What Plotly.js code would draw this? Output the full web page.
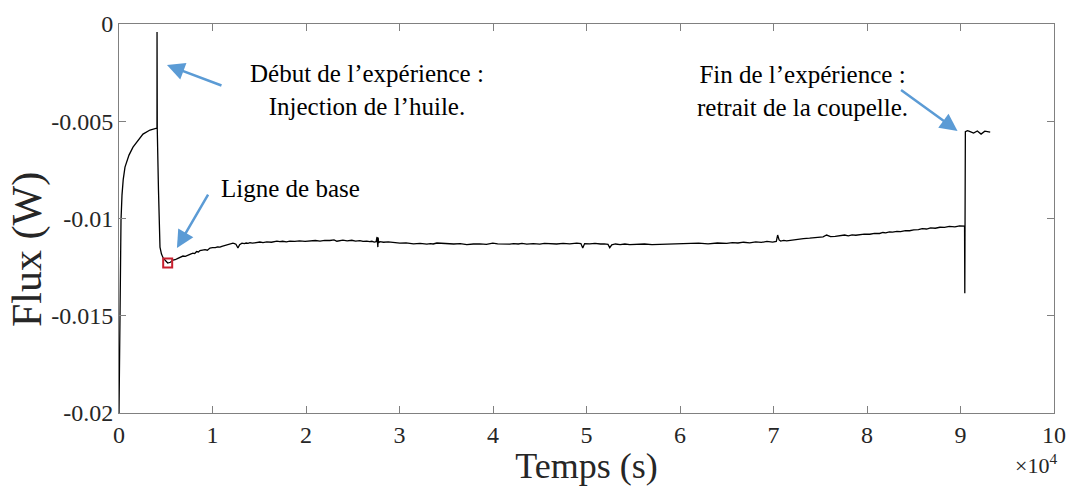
<!DOCTYPE html>
<html>
<head>
<meta charset="utf-8">
<script src="https://cdn.plot.ly/plotly-3.0.1.min.js"></script>
<style>html,body{margin:0;padding:0;background:#fff;}#chart{width:1070px;height:486px;}</style>
</head>
<body>
<div id="chart"></div>
<script>
// Time (s) and heat flux (W)
const timeS = [0, 30, 60, 107, 160, 214, 320, 450, 641, 850, 1069, 1497, 2031, 2565, 3314, 3750, 4062, 4068, 4075, 4094, 4222, 4383, 4543, 4735,
  5206, 5500, 5772, 6000, 6300, 6600, 6841, 7100, 7400, 7650, 7910, 8100, 8300, 8500, 8659, 8900, 9200, 9450, 9728, 10000, 10300, 10550, 10797, 11000, 11200, 11400, 11545, 11900, 12186, 12350, 12507, 12721, 12900, 13149, 13400, 13600, 13800, 14004, 14250, 14500, 14800, 15073, 15400, 15800, 16300, 16890, 17200, 17500, 17900, 18279, 18800, 19300, 19900, 20417, 21000, 21500, 22000, 22555, 23000, 23300, 23600, 23944, 24400, 24900, 25300, 25762, 26100, 26500, 26800, 27044, 27300, 27500, 27600, 27650, 27686, 27720, 27760, 27900, 28300, 28800, 29400, 30037, 30700, 31500, 32200, 32924, 33300, 33600, 34000, 34313, 35000, 35800, 36500, 37199, 37900, 38600, 39300, 39978, 40500, 41000, 41400, 41795, 42200, 42700, 43100, 43613, 44300, 45000, 45500, 46071, 46800, 47500, 48200, 48957, 49400, 49599, 49800, 50347, 50900, 51500, 51900, 52300, 52485, 52700, 53100, 53600, 54100, 54623, 55400, 56200, 57000, 57830, 58600, 59400, 60200, 61037, 62000, 63000, 64000, 64991, 65600, 66200, 66800, 67450, 68100, 68700, 69300, 69909, 70300, 70443, 70600, 70764, 71100, 71405, 72000, 72600, 73200, 73864, 74300, 74800, 75300, 75681, 76100, 76600, 77100, 77605, 78000, 78400, 78800, 79209, 79700, 80300, 80800, 81347, 81700, 82000, 82400, 82737, 83200, 83600, 84100, 84554, 85000, 85500, 85900, 86371, 86800, 87300, 87800, 88295, 88800, 89400, 89900, 90433,
  90460, 90520, 90750, 90968, 91400, 91800, 92200, 92600, 93177];
const fluxW = [-0.0200, -0.0185, -0.0165, -0.0140, -0.0118, -0.0101, -0.0088, -0.0080, -0.00736, -0.00700, -0.00674, -0.00633, -0.00597, -0.00566, -0.00545, -0.00538, -0.00535, -0.00041, -0.00530, -0.00545, -0.00854, -0.01147, -0.01183, -0.01204,
  -0.01229, -0.01225, -0.01214, -0.01212, -0.01205, -0.01200, -0.01193, -0.01195, -0.01187, -0.01183, -0.01178, -0.01180, -0.01170, -0.01172, -0.01165, -0.01163, -0.01160, -0.01163, -0.01152, -0.01150, -0.01150, -0.01146, -0.01147, -0.01143, -0.01140, -0.01141, -0.01137, -0.01133, -0.01127, -0.01129, -0.01132, -0.01152, -0.01135, -0.01127, -0.01129, -0.01126, -0.01128, -0.01124, -0.01127, -0.01125, -0.01122, -0.01121, -0.01124, -0.01120, -0.01122, -0.01116, -0.01119, -0.01117, -0.01120, -0.01116, -0.01118, -0.01115, -0.01118, -0.01115, -0.01113, -0.01116, -0.01112, -0.01113, -0.01110, -0.01117, -0.01113, -0.01111, -0.01115, -0.01112, -0.01116, -0.01114, -0.01118, -0.01116, -0.01119, -0.01117, -0.01121, -0.01119, -0.01095, -0.01140, -0.01147, -0.01098, -0.01125, -0.01119, -0.01122, -0.01120, -0.01124, -0.01127, -0.01125, -0.01130, -0.01128, -0.01132, -0.01129, -0.01131, -0.01126, -0.01127, -0.01130, -0.01131, -0.01129, -0.01134, -0.01131, -0.01130, -0.01133, -0.01127, -0.01130, -0.01131, -0.01128, -0.01132, -0.01129, -0.01131, -0.01128, -0.01132, -0.01129, -0.01132, -0.01128, -0.01130, -0.01131, -0.01128, -0.01130, -0.01127, -0.01129, -0.01152, -0.01129, -0.01130, -0.01128, -0.01131, -0.01130, -0.01133, -0.01150, -0.01135, -0.01131, -0.01134, -0.01131, -0.01134, -0.01132, -0.01131, -0.01134, -0.01133, -0.01130, -0.01131, -0.01128, -0.01130, -0.01127, -0.01130, -0.01126, -0.01128, -0.01124, -0.01126, -0.01122, -0.01125, -0.01120, -0.01123, -0.01118, -0.01121, -0.01118, -0.01085, -0.01110, -0.01116, -0.01113, -0.01115, -0.01110, -0.01108, -0.01103, -0.01101, -0.01099, -0.01097, -0.01094, -0.01085, -0.01093, -0.01092, -0.01088, -0.01085, -0.01089, -0.01084, -0.01086, -0.01082, -0.01080, -0.01081, -0.01076, -0.01077, -0.01072, -0.01074, -0.01069, -0.01070, -0.01066, -0.01067, -0.01062, -0.01063, -0.01058, -0.01057, -0.01052, -0.01054, -0.01048, -0.01050, -0.01045, -0.01046, -0.01041, -0.01043, -0.01038, -0.01039,
  -0.01384, -0.00554, -0.00548, -0.00552, -0.00561, -0.00550, -0.00566, -0.00551, -0.00556];

// Baseline marker
const baseT = [5206];
const baseF = [-0.01229];

// Ticks
const xTickVals = [0, 10000, 20000, 30000, 40000, 50000, 60000, 70000, 80000, 90000, 100000];
const xTickText = ['0', '1', '2', '3', '4', '5', '6', '7', '8', '9', '10'];
const yTickVals = [0, -0.005, -0.01, -0.015, -0.02];
const yTickText = ['0', '-0.005', '-0.01', '-0.015', '-0.02'];

// Labels
const xTitle = 'Temps (s)';
const yTitle = 'Flux (W)';
const expoText = '\u00d710<sup>4</sup>';
const noteStart = 'Début de l\u2019expérience :<br>Injection de l\u2019huile.';
const noteBase = 'Ligne de base';
const noteEnd = 'Fin de l\u2019expérience :<br>retrait de la coupelle.';

const serif = '"Liberation Serif", "Times New Roman", Times, serif';
const arrowBlue = '#5b9bd5';

const traces = [
  {x: timeS, y: fluxW, type: 'scatter', mode: 'lines',
   line: {color: '#000000', width: 1.3}, hoverinfo: 'skip'},
  {x: baseT, y: baseF, type: 'scatter', mode: 'markers',
   marker: {symbol: 'square-open', size: 9, color: '#c8202f', line: {width: 2, color: '#c8202f'}}}
];

const axisCommon = {
  showgrid: false, zeroline: false, showline: true, linecolor: '#808080', linewidth: 1,
  mirror: 'ticks', ticks: 'inside', ticklen: 7, tickcolor: '#808080', tickwidth: 1,
  tickfont: {family: serif, size: 24, color: '#262626'}, tickmode: 'array'
};

const layout = {
  width: 1070, height: 486,
  margin: {l: 119, r: 16, t: 24, b: 73},
  paper_bgcolor: '#ffffff', plot_bgcolor: '#ffffff',
  font: {family: serif},
  showlegend: false,
  xaxis: Object.assign({}, axisCommon, {range: [0, 100000], tickvals: xTickVals, ticktext: xTickText,
    title: {text: xTitle, font: {family: serif, size: 36, color: '#262626'}, standoff: 2}}),
  yaxis: Object.assign({}, axisCommon, {range: [-0.02, 0], tickvals: yTickVals, ticktext: yTickText}),
  annotations: [
    {xref: 'paper', yref: 'paper', x: -0.098, y: 0.42, text: yTitle, textangle: -90, showarrow: false,
     font: {family: serif, size: 42, color: '#262626'}, xanchor: 'center', yanchor: 'middle'},
    {xref: 'paper', yref: 'paper', x: 1.005, y: -0.09, text: expoText, showarrow: false,
     font: {family: serif, size: 22, color: '#262626'}, xanchor: 'right', yanchor: 'top'},
    {xref: 'x', yref: 'y', x: 26500, y: -0.0034, text: noteStart, showarrow: false,
     font: {family: serif, size: 25, color: '#000000'}, xanchor: 'center', yanchor: 'middle', align: 'center'},
    {xref: 'x', yref: 'y', x: 18300, y: -0.00845, text: noteBase, showarrow: false,
     font: {family: serif, size: 25, color: '#000000'}, xanchor: 'center', yanchor: 'middle'},
    {xref: 'x', yref: 'y', x: 73100, y: -0.00345, text: noteEnd, showarrow: false,
     font: {family: serif, size: 25, color: '#000000'}, xanchor: 'center', yanchor: 'middle', align: 'center'},
    {xref: 'x', yref: 'y', x: 5131, y: -0.00211, ax: 56, ay: 21, text: '', showarrow: true,
     arrowhead: 2, arrowsize: 1.4, arrowwidth: 2.5, arrowcolor: arrowBlue, standoff: 0},
    {xref: 'x', yref: 'y', x: 6200, y: -0.01152, ax: 32, ay: -55, text: '', showarrow: true,
     arrowhead: 2, arrowsize: 1.4, arrowwidth: 2.5, arrowcolor: arrowBlue, standoff: 0},
    {xref: 'x', yref: 'y', x: 89685, y: -0.0055, ax: -58, ay: -42, text: '', showarrow: true,
     arrowhead: 2, arrowsize: 1.4, arrowwidth: 2.5, arrowcolor: arrowBlue, standoff: 0}
  ]
};

Plotly.newPlot('chart', traces, layout, {displayModeBar: false, staticPlot: true});
</script>
</body>
</html>
